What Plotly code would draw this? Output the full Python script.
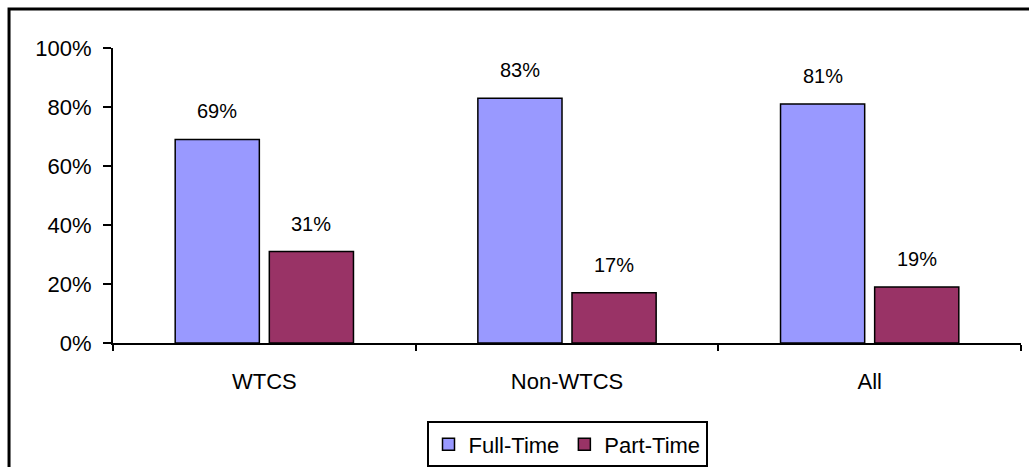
import plotly.graph_objects as go

categories = ["WTCS", "Non-WTCS", "All"]
full_time = [0.69, 0.83, 0.81]
part_time = [0.31, 0.17, 0.19]
series_names = ["Full-Time", "Part-Time"]
y_ticks = [0, 0.2, 0.4, 0.6, 0.8, 1.0]
y_tick_labels = ["0%", "20%", "40%", "60%", "80%", "100%"]

FONT = "Liberation Sans, Arial, sans-serif"

fig = go.Figure()
fig.add_trace(go.Bar(name=series_names[0], x=categories, y=full_time,
                     marker=dict(color="#9999FF", line=dict(color="black", width=1.5)),
                     offsetgroup="a"))
fig.add_trace(go.Bar(name=series_names[1], x=categories, y=part_time,
                     marker=dict(color="#993366", line=dict(color="black", width=1.5)),
                     offsetgroup="b"))

# data labels above bars
annotations = []
for i, c in enumerate(categories):
    for j, vals in enumerate([full_time, part_time]):
        annotations.append(dict(
            x=c, y=vals[i], xref="x", yref="y",
            text=f"{round(vals[i]*100)}%", showarrow=False,
            yanchor="bottom", yshift=15,
            xshift=(-47 if j == 0 else 47),
            font=dict(family=FONT, size=20, color="black")))

fig.update_layout(
    width=1029, height=467,
    margin=dict(l=113, r=8, t=48, b=124, autoexpand=False),
    paper_bgcolor="white", plot_bgcolor="white",
    barmode="group", bargap=0.378, bargroupgap=0.106,
    font=dict(family=FONT, size=22, color="black"),
    showlegend=True,
    legend=dict(orientation="h", x=0.5, xanchor="center", y=-0.266, yanchor="top",
                bordercolor="black", borderwidth=2, bgcolor="white",
                font=dict(family=FONT, size=22, color="black"),
                itemwidth=30, tracegroupgap=0),
    annotations=annotations,
    shapes=[dict(type="rect", xref="paper", yref="paper",
                 x0=-0.1145, y0=1.1322, x1=1.2, y1=-0.6,
                 line=dict(color="black", width=3), layer="below")],
)
fig.update_yaxes(range=[0, 1], tickvals=y_ticks, ticktext=y_tick_labels,
                 showgrid=False, zeroline=False, automargin=False,
                 showline=True, linecolor="black", linewidth=2,
                 ticks="outside", ticklen=8, tickwidth=2, tickcolor="black",
                 ticklabelstandoff=7,
                 tickfont=dict(family=FONT, size=22, color="black"))
fig.update_xaxes(showgrid=False, showline=True, linecolor="black", linewidth=2,
                 automargin=False,
                 ticks="outside", tickson="boundaries", ticklen=6, tickwidth=2,
                 tickcolor="black", ticklabelstandoff=18,
                 tickfont=dict(family=FONT, size=22, color="black"))

fig.write_html("out.html", config={"displayModeBar": False},
               post_script="document.body.style.margin='0';document.body.style.overflow='hidden';")
